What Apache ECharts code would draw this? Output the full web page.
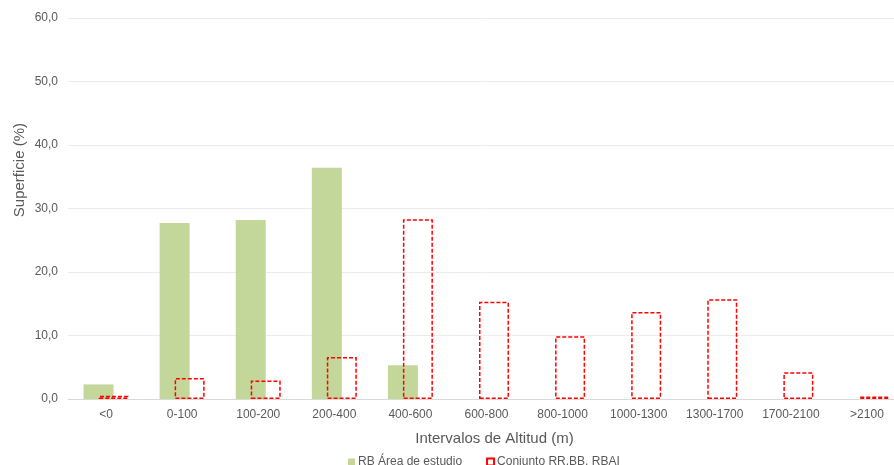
<!DOCTYPE html>
<html>
<head>
<meta charset="utf-8">
<script src="https://cdn.jsdelivr.net/npm/echarts@6/dist/echarts.min.js"></script>
<style>html,body{margin:0;padding:0;background:#fff;overflow:hidden;width:894px;height:465px;}#c{width:905px;height:465px;}</style>
</head>
<body>
<div id="c"></div>
<script>
const categories = ['<0','0-100','100-200','200-400','400-600','600-800','800-1000','1000-1300','1300-1700','1700-2100','>2100'];
const rbArea = [2.3, 27.7, 28.2, 36.4, 5.3, 0, 0, 0, 0, 0, 0];
const conjunto = [0.5, 3.3, 2.9, 6.6, 28.3, 15.3, 9.9, 13.7, 15.7, 4.2, 0.4];
const seriesNames = ['RB Área de estudio', 'Conjunto RR.BB. RBAI'];
const yTitle = 'Superficie (%)';
const xTitle = 'Intervalos de Altitud (m)';

const font = '"Liberation Sans", Arial, sans-serif';
const chart = echarts.init(document.getElementById('c'), null, {renderer: 'canvas'});
chart.setOption({
  animation: false,
  backgroundColor: '#fff',
  textStyle: {fontFamily: font},
  grid: {left: 68, top: 18, bottom: 66, right: 0, containLabel: false},
  legend: {
    data: [
      {name: seriesNames[0], icon: 'rect'},
      {name: seriesNames[1], icon: 'rect'}
    ],
    left: 343, top: 451,
    itemWidth: 7, itemHeight: 7, itemGap: 24,
    textStyle: {fontSize: 12, color: '#595959', fontFamily: font, padding: [0, 0, 0, -2]}
  },
  xAxis: {
    type: 'category',
    data: categories,
    name: xTitle,
    nameLocation: 'middle',
    nameGap: 32,
    nameTextStyle: {fontSize: 15, color: '#595959', fontFamily: font, padding: [0, 0, 0, 16]},
    axisLine: {lineStyle: {color: '#d9d9d9'}},
    axisTick: {show: false},
    axisLabel: {fontSize: 12, color: '#595959', margin: 10, fontFamily: font}
  },
  yAxis: {
    type: 'value',
    min: 0, max: 60, interval: 10,
    axisLabel: {fontSize: 12, color: '#595959', margin: 10, fontFamily: font,
      formatter: v => v.toFixed(1).replace('.', ',')},
    splitLine: {lineStyle: {color: '#ebebeb'}},
    axisLine: {show: false},
    axisTick: {show: false}
  },
  graphic: [{
    type: 'text',
    left: 12, top: 123,
    rotation: Math.PI / 2,
    style: {text: yTitle, fontSize: 15, fill: '#595959', fontFamily: font}
  }],
  series: [
    {
      name: seriesNames[0],
      type: 'bar',
      data: rbArea,
      barWidth: 30,
      barGap: '-50%',
      itemStyle: {color: '#c4d79b'}
    },
    {
      name: seriesNames[1],
      type: 'bar',
      data: conjunto,
      barWidth: 30,
      itemStyle: {color: 'rgba(255,255,255,0)', borderColor: '#ff0000', borderWidth: 1.5, borderType: [4, 2]}
    }
  ]
});
</script>
</body>
</html>
